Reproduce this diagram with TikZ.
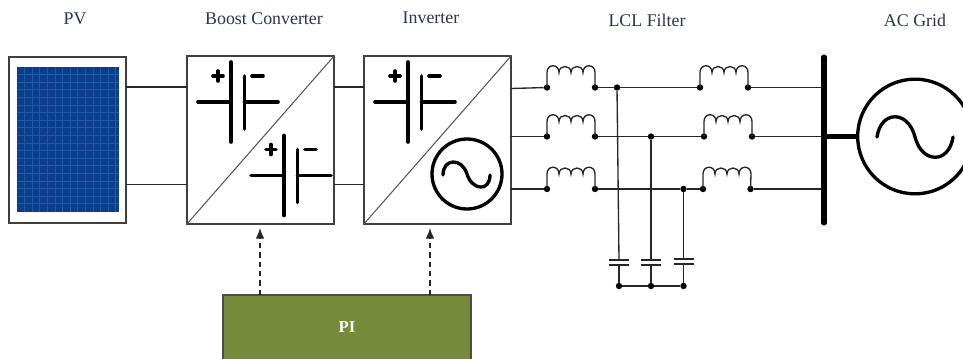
\documentclass[tikz,border=0pt]{standalone}
\usepackage{fontspec}
\setmainfont{Liberation Serif}
\usetikzlibrary{arrows.meta, calc}
\definecolor{labelblue}{HTML}{2B3550}
\definecolor{cellblue}{HTML}{0A3E8C}
\definecolor{gridblue}{HTML}{1F5AA6}
\definecolor{piolive}{HTML}{758A3A}
\tikzset{
    title/.style={text=labelblue, font=\fontsize{13.4}{15}\selectfont, inner sep=0pt},
    conv/.style={draw=black!75, fill=white, line width=1pt, minimum width=110.25pt, minimum height=126pt, inner sep=0pt},
    wire/.style={black!85, line width=1pt},
    thick sym/.style={black, line width=2.7pt, line cap=round},
    dot/.style={circle, fill=black, inner sep=0pt, minimum size=4.8pt},
    signal/.style={-{Latex[length=8pt,width=6.5pt]}, dash pattern=on 4pt off 3pt, black!85, line width=1pt}
}
\begin{document}
\begin{tikzpicture}[x=0.75pt, y=-0.75pt]
    \useasboundingbox (0,0) rectangle (963,358);
    \clip (0,0) rectangle (963,358);

    % titles
    \node[title] (tPV) at (75,19) {PV};
    \node[title] (tBoost) at (264,19) {Boost Converter};
    \node[title] (tInv) at (431,18) {Inverter};
    \node[title] (tLCL) at (647,20) {LCL Filter};
    \node[title] (tGrid) at (915,20) {AC Grid};

    % PV panel
    \node[draw=black!75, fill=white, line width=1pt, minimum width=87.75pt, minimum height=124.5pt, inner sep=0pt] (pv) at (67.5,140) {};
    \fill[cellblue] (17,67) rectangle (119,212);
    \begin{scope}
        \clip (17,67) rectangle (119,212);
        \foreach \x in {1,...,13} {
            \draw[gridblue, line width=0.7pt] ({17+7.6*\x},67) -- ({17+7.6*\x},212);
        }
        \foreach \y in {1,...,18} {
            \draw[gridblue, line width=0.7pt] (17,{67+7.6*\y}) -- (119,{67+7.6*\y});
        }
    \end{scope}

    % converters
    \node[conv] (boost) at (260.5,140) {};
    \node[conv] (inv) at (437.5,140) {};
    \draw[black!65, line width=0.8pt] (boost.south west) -- (boost.north east);
    \draw[black!65, line width=0.8pt] (inv.south west) -- (inv.north east);

    % dc symbols
    \foreach \xc/\yc in {231/102, 284/175.5, 408/102} {
        \draw[thick sym] (\xc,\yc-40) -- (\xc,\yc+40);
        \draw[thick sym] ($(\xc,\yc)+(13.5,-26)$) -- ($(\xc,\yc)+(13.5,27)$);
        \draw[thick sym] (\xc-33,\yc) -- (\xc,\yc);
        \draw[thick sym] (\xc+13.5,\yc) -- (\xc+47,\yc);
        \draw[thick sym] (\xc-18,\yc-26) -- (\xc-8,\yc-26);
        \draw[thick sym] (\xc-13,\yc-31) -- (\xc-13,\yc-21);
        \draw[thick sym] (\xc+21,\yc-26) -- (\xc+32,\yc-26);
    }

    % inverter ac symbol
    \draw[black, line width=2.5pt] (467,174) circle (26.25pt);
    \draw[black, line width=2.5pt, line cap=round] (443,175) .. controls (443,157.8) and (462,157.8) .. (467,174) .. controls (472,190.5) and (490,192) .. (490,175);

    % dc links
    \coordinate (pvA) at (126,87);
    \coordinate (pvB) at (126,184.5);
    \coordinate (boostA) at (187,87);
    \coordinate (boostB) at (187,184.5);
    \coordinate (boostC) at (334,87);
    \coordinate (boostD) at (334,184.5);
    \coordinate (invA) at (363.5,87);
    \coordinate (invB) at (363.5,184.5);
    \draw[wire] (pvA) -- (boostA);
    \draw[wire] (pvB) -- (boostB);
    \draw[wire] (boostC) -- (invA);
    \draw[wire] (boostD) -- (invB);

    % LCL filter
    \node[dot] (La) at (547,87.5) {};
    \node[dot] (Lb) at (595,87.5) {};
    \node[dot] (Lc) at (547,136.5) {};
    \node[dot] (Ld) at (595,136.5) {};
    \node[dot] (Le) at (547,189) {};
    \node[dot] (Lf) at (595,189) {};
    \node[dot] (Ra) at (700,87.5) {};
    \node[dot] (Rb) at (748,87.5) {};
    \node[dot] (Rc) at (704,136.5) {};
    \node[dot] (Rd) at (752,136.5) {};
    \node[dot] (Re) at (703,189) {};
    \node[dot] (Rf) at (750.5,189) {};
    \node[dot] (Ja) at (617,87.5) {};
    \node[dot] (Jb) at (651,136.5) {};
    \node[dot] (Jc) at (683.5,189) {};
    \node[dot] (Ga) at (619,286) {};
    \node[dot] (Gb) at (651,286) {};
    \node[dot] (Gc) at (683.5,286) {};

    \coordinate (outA) at (511,88.5);
    \coordinate (outB) at (511,136.5);
    \coordinate (outC) at (511,189);
    \coordinate (busA) at (824,87.5);
    \coordinate (busB) at (824,136.5);
    \coordinate (busC) at (824,189);
    \draw[wire] (outA) -- (La);
    \draw[wire] (outB) -- (Lc);
    \draw[wire] (outC) -- (Le);
    \draw[wire] (Lb) -- (Ja) -- (Ra);
    \draw[wire] (Ld) -- (Jb) -- (Rc);
    \draw[wire] (Lf) -- (Jc) -- (Re);
    \draw[wire] (Rb) -- (busA);
    \draw[wire] (Rd) -- (busB);
    \draw[wire] (Rf) -- (busC);

    % coils
    \foreach \a/\b in {La/Lb, Lc/Ld, Le/Lf, Ra/Rb, Rc/Rd, Re/Rf} {
        \draw[wire] (\a.center) -- ++(0,-15) .. controls +(0,-9) and +(0,-9) .. ++(12,0) .. controls +(0,-8) and +(0,-8) .. ++(12,0) .. controls +(0,-8) and +(0,-8) .. ++(12,0) .. controls +(0,-9) and +(0,-9) .. ++(12,0) -- (\b.center);
    }

    % capacitors
    \coordinate (Ca) at (619,260);
    \coordinate (Cb) at (651,260);
    \coordinate (Cc) at (683.5,259);
    \coordinate (Da) at (619,265);
    \coordinate (Db) at (651,265);
    \coordinate (Dc) at (683.5,264);
    \draw[wire] (Ja) -- (Ca);
    \draw[wire] (Jb) -- (Cb);
    \draw[wire] (Jc) -- (Cc);
    \draw[wire] (Da) -- (Ga);
    \draw[wire] (Db) -- (Gb);
    \draw[wire] (Dc) -- (Gc);
    \foreach \c in {Ca, Cb, Cc, Da, Db, Dc} {
        \draw[wire] ($(\c)+(-10,0)$) -- ($(\c)+(10,0)$);
    }
    \draw[wire] (Ga) -- (Gb) -- (Gc);

    % grid
    \coordinate (busT) at (824,57);
    \coordinate (busE) at (824,223);
    \node[draw=black, line width=2.5pt, circle, minimum size=86pt, inner sep=0pt] (grid) at (915,136.5) {};
    \draw[black, line width=3.8pt, line cap=round] (busT) -- (busE);
    \draw[black, line width=3.8pt] (busB) -- (grid.west);
    \draw[black, line width=2.5pt, line cap=round] (877,137) .. controls (881,110) and (908,110) .. (915,137) .. controls (922,164) and (949,164) .. (953,137);

    % control
    \node[fill=piolive, draw=black!70, line width=0.8pt, minimum width=186pt, minimum height=60pt, inner sep=0pt] (pi) at (347,335) {};
    \node[text=white, font=\fontsize{12.5}{14}\selectfont\bfseries, inner sep=0pt] (piText) at (347,327) {PI};
    \coordinate (ctrlA) at (260,295);
    \coordinate (tipA) at (260,228);
    \coordinate (ctrlB) at (430,295);
    \coordinate (tipB) at (430,228);
    \draw[signal] (ctrlA) -- (tipA);
    \draw[signal] (ctrlB) -- (tipB);
\end{tikzpicture}
\end{document}
